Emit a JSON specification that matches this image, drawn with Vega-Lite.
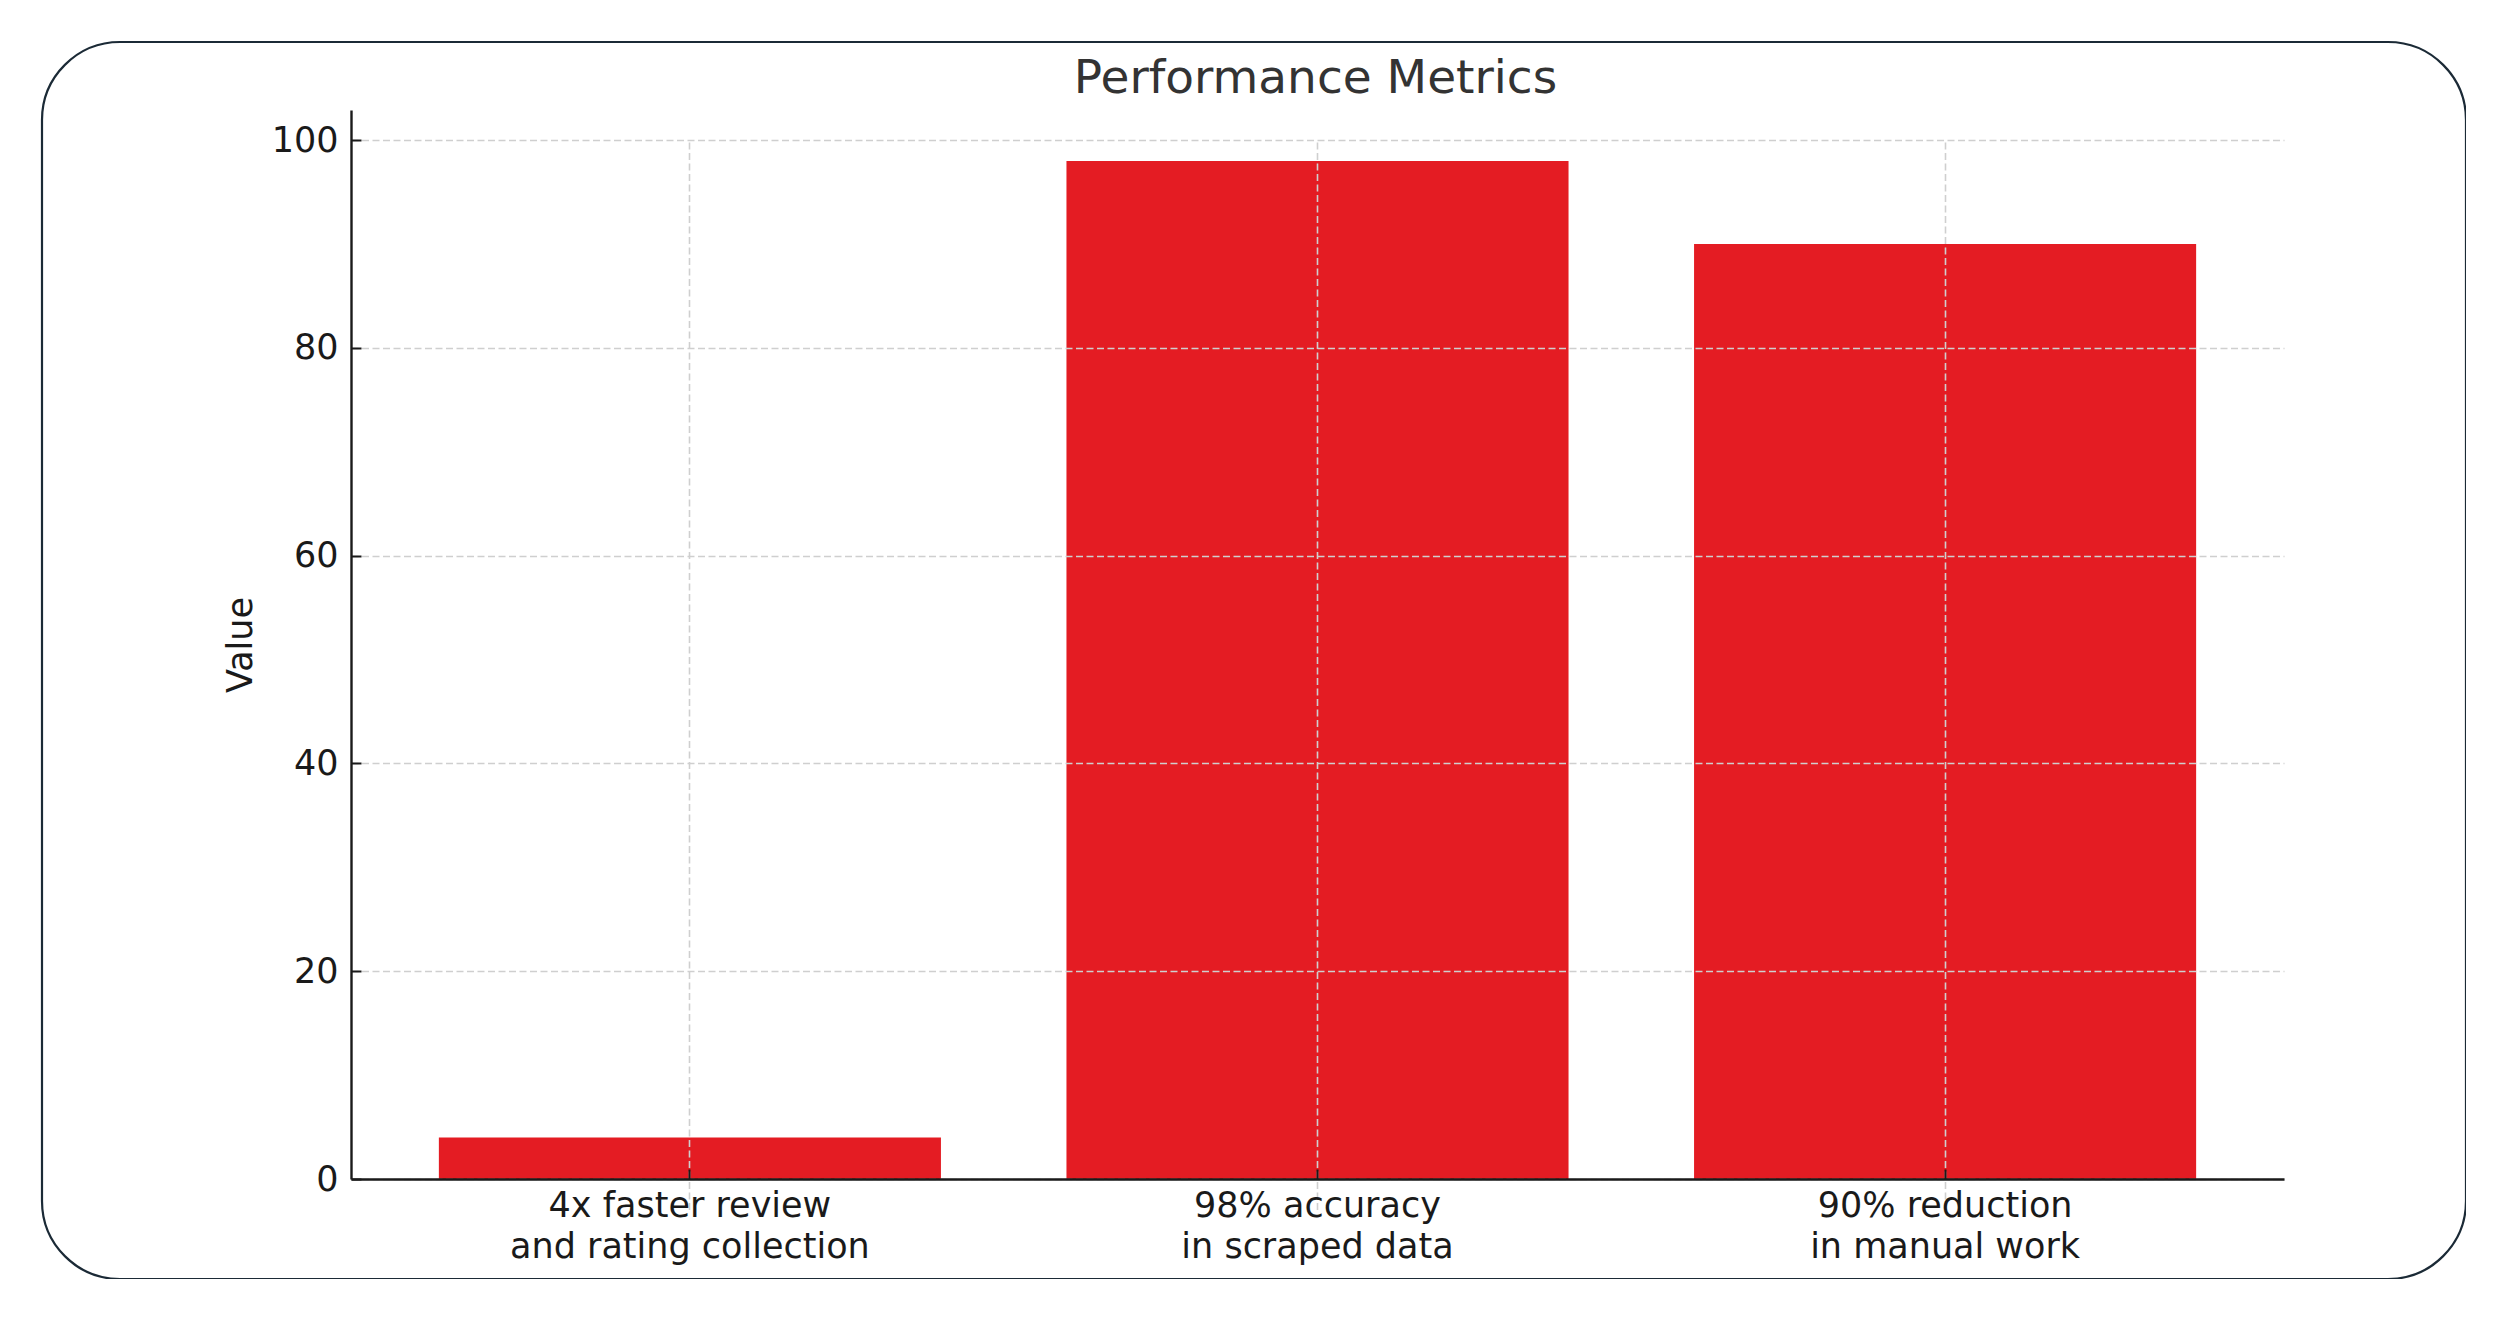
{
  "$schema": "https://vega.github.io/schema/vega-lite/v6.json",
  "width": 2424,
  "height": 1237,
  "autosize": "none",
  "padding": {"left": 42, "top": 42, "right": 0, "bottom": 0},
  "background": "white",
  "config": {
    "view": {"stroke": "#1b2a36", "strokeWidth": 2.2, "cornerRadius": 78, "fill": "white"},
    "font": "DejaVu Sans"
  },
  "data": {
    "values": [
      {"metric": "4x faster review\nand rating collection", "value": 4},
      {"metric": "98% accuracy\nin scraped data", "value": 98},
      {"metric": "90% reduction\nin manual work", "value": 90}
    ]
  },
  "mark": {"type": "bar", "color": "#e41c23"},
  "encoding": {
    "x": {
      "field": "metric",
      "type": "nominal",
      "sort": null,
      "scale": {"range": [309, 2242], "paddingInner": 0.2, "paddingOuter": 0.14},
      "axis": {
        "title": "Performance Metrics",
        "titleFont": "DejaVu Sans",
        "titleFontSize": 47,
        "titleFontWeight": "normal",
        "titleColor": "#333333",
        "titleX": 1273,
        "titleY": -1087,
        "titleAlign": "center",
        "titleBaseline": "alphabetic",
        "labelAngle": 0,
        "offset": -100,
        "grid": true,
        "bandPosition": 0.5,
        "zindex": 1,
        "labelExpr": "split(datum.label, '\\n')",
        "labelFont": "DejaVu Sans",
        "labelFontSize": 35,
        "labelColor": "#1a1a1a",
        "labelLineHeight": 41,
        "labelBaseline": "top",
        "labelPadding": 19,
        "labelLimit": 1000,
        "labelOverlap": false,
        "tickSize": -10,
        "tickColor": "#1a1a1a",
        "tickWidth": 2,
        "domainColor": "#1a1a1a",
        "domainWidth": 2.4,
        "gridColor": "#cfcfcf",
        "gridDash": [7, 3.5],
        "gridWidth": 1.6
      }
    },
    "y": {
      "field": "value",
      "type": "quantitative",
      "scale": {"domain": [0, 102.9], "range": [1137, 68], "nice": false, "zero": true},
      "axis": {
        "title": "Value",
        "values": [0, 20, 40, 60, 80, 100],
        "offset": -309,
        "grid": true,
        "zindex": 1,
        "labelFont": "DejaVu Sans",
        "labelFontSize": 35,
        "labelColor": "#1a1a1a",
        "labelPadding": 23,
        "tickSize": -10,
        "tickColor": "#1a1a1a",
        "tickWidth": 2,
        "domainColor": "#1a1a1a",
        "domainWidth": 2.4,
        "gridColor": "#cfcfcf",
        "gridDash": [7, 3.5],
        "gridWidth": 1.6,
        "titleFont": "DejaVu Sans",
        "titleFontSize": 35,
        "titleFontWeight": "normal",
        "titleColor": "#1a1a1a",
        "titlePadding": 13
      }
    }
  }
}
